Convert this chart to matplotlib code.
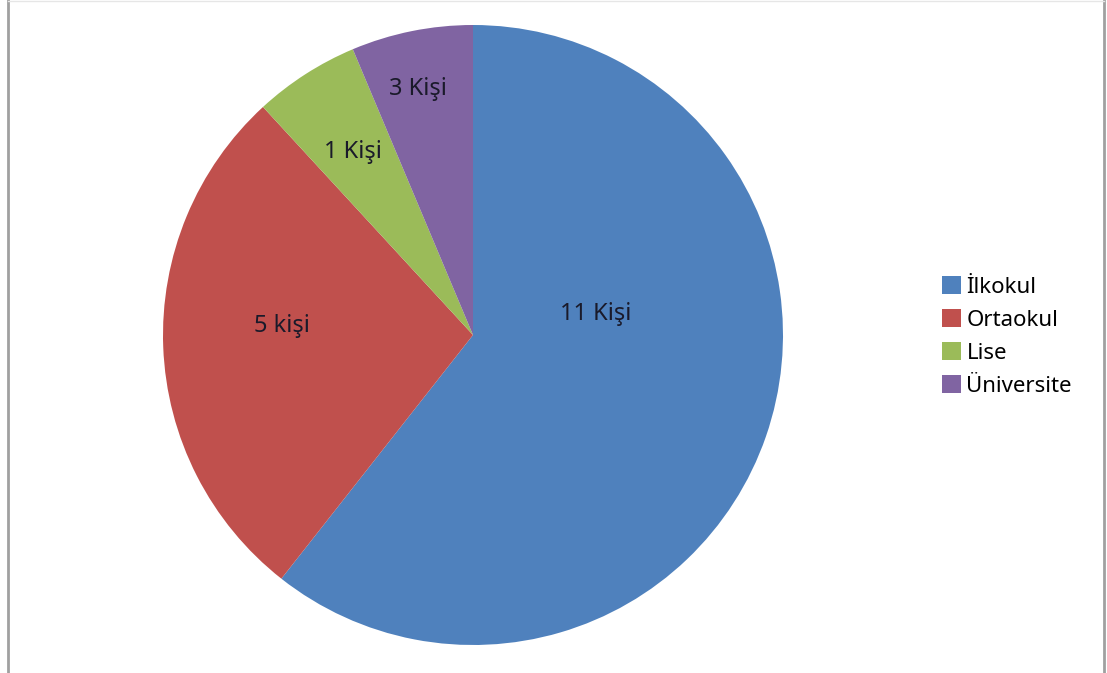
import matplotlib
matplotlib.use("Agg")
import matplotlib.pyplot as plt
from matplotlib.patches import Patch
from matplotlib.lines import Line2D

categories = ["İlkokul", "Ortaokul", "Lise", "Üniversite"]
values = [11, 5, 1, 1.15]
slice_labels = ["11 Kişi", "5 kişi", "1 Kişi", "3 Kişi"]
colors = ["#4F81BD", "#C0504D", "#9BBB59", "#8064A2"]

plt.rcParams['font.family'] = ['Noto Sans', 'DejaVu Sans']

W, H = 1107, 673
fig = plt.figure(figsize=(W / 100, H / 100), dpi=100)
fig.patch.set_facecolor("white")

cx, cy, r = 473, 335, 310
ax = fig.add_axes([(cx - r) / W, (H - cy - r) / H, 2 * r / W, 2 * r / H])
wedges, _ = ax.pie(values, colors=colors, startangle=90, counterclock=False,
                   radius=1.0, wedgeprops=dict(linewidth=0))
ax.set_xlim(-1, 1)
ax.set_ylim(-1, 1)
ax.set_aspect("equal")
ax.axis("off")

label_pos = [(0.397, 0.068), (-0.616, 0.029), (-0.387, 0.590), (-0.177, 0.794)]
for (x, y), t in zip(label_pos, slice_labels):
    ax.text(x, y, t, ha="center", va="center", fontsize=17, color="#1a1a2a")

handles = [Patch(facecolor=c, edgecolor="none") for c in colors]
fig.legend(handles, categories, loc="upper left",
           bbox_to_anchor=(942 / W, 1 - 276 / H), frameon=False,
           fontsize=16, handlelength=0.85, handleheight=0.85, handletextpad=0.25,
           labelspacing=0.52, borderpad=0, borderaxespad=0)

# frame lines
fig.add_artist(Line2D([7.5 / W, 7.5 / W], [0, 1], color="#a0a0a0", lw=2, transform=fig.transFigure))
fig.add_artist(Line2D([1103.5 / W, 1103.5 / W], [0, 1], color="#a0a0a0", lw=2, transform=fig.transFigure))
fig.add_artist(Line2D([7.5 / W, 1103.5 / W], [1 - 0.5 / H, 1 - 0.5 / H], color="#e6e6e6", lw=1, transform=fig.transFigure))

fig.savefig("out.png", dpi=100)
